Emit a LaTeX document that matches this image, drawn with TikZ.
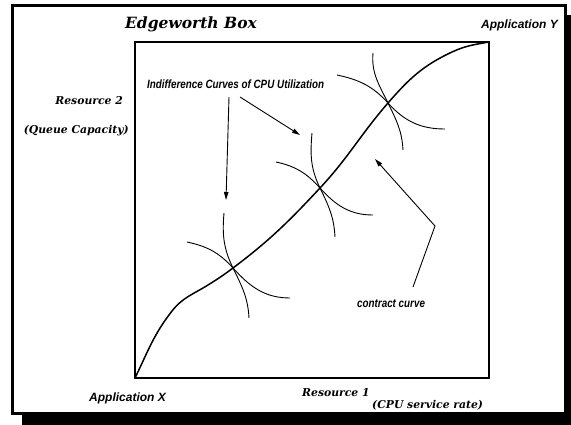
\documentclass[tikz,border=0pt]{standalone}
\usepackage{fontspec}
\usetikzlibrary{arrows.meta}
\newfontfamily\schfont{DejaVu Serif}
\newfontfamily\helvfont{Liberation Sans}
\newfontfamily\narrowfont[FakeStretch=0.82]{Liberation Sans}

\tikzset{
  serlab/.style={font=\schfont\bfseries\itshape\fontsize{10.8}{13}\selectfont, inner sep=0pt},
  applab/.style={font=\helvfont\bfseries\itshape\fontsize{12}{14}\selectfont, inner sep=0pt},
  narrowlab/.style={font=\narrowfont\bfseries\itshape\fontsize{12}{14}\selectfont, inner sep=0pt},
  icurve/.style={line width=0.9pt},
  contract/.style={line width=1.5pt},
  pointer/.style={line width=0.9pt, -{Triangle[length=8pt,width=4.5pt]}}
}

\begin{document}
\begin{tikzpicture}[x=1pt, y=1pt]
  \useasboundingbox (0,0) rectangle (571,-424);

  % Frame with shadow
  \fill[black] (22,-15) rectangle (576,-429);
  \draw[line width=2.4pt, fill=white] (12.3,-5.5) rectangle (565.5,-413.5);

  % Box
  \draw[line width=1.8pt] (135,-42) rectangle (489,-378);

  % --- LABELS ---
  \node[serlab, anchor=base, font=\schfont\bfseries\itshape\fontsize{15.5}{18}\selectfont] (title) at (191,-28) {Edgeworth Box};
  \node[applab, anchor=base east] (appy) at (558,-28) {Application Y};
  \node[applab, anchor=base west] (appx) at (89,-401) {Application X};
  \node[serlab, anchor=base east] (res2) at (123,-104) {Resource 2};
  \node[serlab, anchor=base east] (queue) at (129,-133) {(Queue Capacity)};
  \node[serlab, anchor=base west] (res1) at (302,-396) {Resource 1};
  \node[serlab, anchor=base west] (cpu) at (372,-408) {(CPU service rate)};
  \node[narrowlab, anchor=base west] (icurves) at (147,-88) {Indifference Curves of CPU Utilization};
  \node[narrowlab, anchor=base west] (cclabel) at (357,-307) {contract curve};

  % --- CONTRACT CURVE ---
  \coordinate (c1) at (233,-268);
  \coordinate (c2) at (320,-188);
  \coordinate (c3) at (388,-103);
  \draw[contract] (135,-378) to[out=64,in=232] (172,-311) to[out=52,in=212] (208,-285)
    to[out=32,in=217] (c1) to[out=37,in=227] (c2) to[out=47,in=229] (c3)
    to[out=49,in=205] (452,-52) to[out=25,in=190] (489,-42);

  % --- INDIFFERENCE CURVES ---
  \draw[icurve] (187,-242) to[out=-12,in=132] (c1) to[out=-48,in=180] (290,-298);
  \draw[icurve] (224,-213) to[out=-95,in=116] (c1) to[out=-64,in=93] (249,-318);

  \draw[icurve] (276,-162) to[out=-12,in=132] (c2) to[out=-48,in=180] (373,-215);
  \draw[icurve] (312,-133) to[out=-95,in=116] (c2) to[out=-64,in=93] (335,-237);

  \draw[icurve] (337,-75) to[out=-12,in=132] (c3) to[out=-48,in=180] (445,-129);
  \draw[icurve] (373,-53) to[out=-95,in=116] (c3) to[out=-64,in=93] (403,-150);

  % --- POINTERS ---
  \coordinate (p1) at (229,-97);
  \coordinate (t1) at (226,-200);
  \coordinate (p2) at (240,-97);
  \coordinate (t2) at (300,-135);
  \coordinate (p3) at (413,-287);
  \coordinate (k3) at (435,-226);
  \coordinate (t3) at (375,-159);
  \draw[pointer] (p1) -- (t1);
  \draw[pointer] (p2) -- (t2);
  \draw[pointer] (p3) -- (k3) -- (t3);
\end{tikzpicture}
\end{document}
